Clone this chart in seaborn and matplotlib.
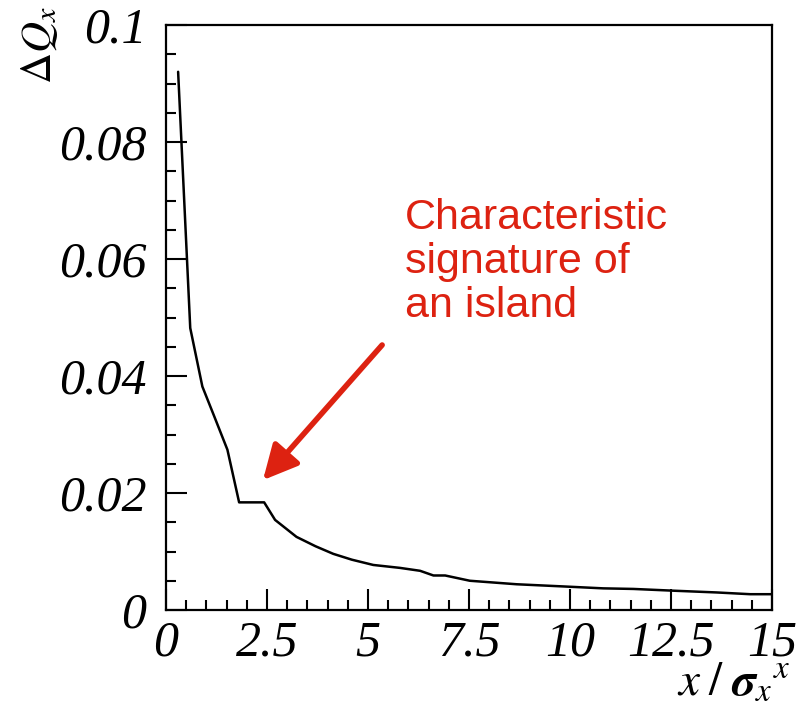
import numpy as np
import pandas as pd
import matplotlib
matplotlib.use("Agg")
import matplotlib.pyplot as plt
import seaborn as sns
from matplotlib.ticker import MultipleLocator, FixedLocator, FixedFormatter

# Tune shift versus horizontal amplitude
amplitude = [0.30, 0.60, 0.90, 1.20, 1.52, 1.81, 2.43, 2.70, 3.23, 3.70, 4.14,
             4.60, 5.13, 5.79, 6.29, 6.62, 6.91, 7.52, 8.10, 8.68, 9.30, 9.92,
             10.82, 11.57, 12.56, 13.63, 14.46, 15.00]
tune_shift = [0.0920, 0.0482, 0.0382, 0.0330, 0.0274, 0.0184, 0.0184, 0.0154,
              0.0125, 0.0109, 0.0096, 0.0086, 0.0077, 0.0072, 0.0067, 0.0059,
              0.0059, 0.0050, 0.0047, 0.0044, 0.0042, 0.0040, 0.0037, 0.0036,
              0.0033, 0.0030, 0.0027, 0.0027]

x_ticks = [0, 2.5, 5, 7.5, 10, 12.5, 15]
x_tick_labels = ["0", "2.5", "5", "7.5", "10", "12.5", "15"]
y_ticks = [0, 0.02, 0.04, 0.06, 0.08, 0.1]
y_tick_labels = ["0", "0.02", "0.04", "0.06", "0.08", "0.1"]

note_text = "Characteristic\nsignature of\nan island"
note_color = "#dd2211"

sns.set_style("white")
plt.rcParams["font.family"] = ["Liberation Serif", "DejaVu Serif"]
plt.rcParams["mathtext.fontset"] = "stix"
plt.rcParams["text.color"] = "black"

df = pd.DataFrame({"amp": amplitude, "dq": tune_shift})

fig = plt.figure(figsize=(8.12, 7.19), dpi=100)
ax = fig.add_axes([166 / 812, 1 - 610 / 719, 606 / 812, 585 / 719])

sns.lineplot(data=df, x="amp", y="dq", ax=ax, color="black", lw=1.8,
             sort=False, estimator=None)

ax.set_xlim(0, 15)
ax.set_ylim(0, 0.1)

for s in ax.spines.values():
    s.set_color("black")
    s.set_linewidth(1.6)

ax.xaxis.set_major_locator(FixedLocator(x_ticks))
ax.xaxis.set_major_formatter(FixedFormatter(x_tick_labels))
ax.xaxis.set_minor_locator(MultipleLocator(0.5))
ax.yaxis.set_major_locator(FixedLocator(y_ticks))
ax.yaxis.set_major_formatter(FixedFormatter(y_tick_labels))
ax.yaxis.set_minor_locator(MultipleLocator(0.005))

ax.tick_params(which="both", direction="in", color="black", width=1.5,
               labelcolor="black",
               top=False, right=False, left=True, bottom=True)
ax.tick_params(which="major", length=15)
ax.tick_params(which="minor", length=7)
ax.tick_params(axis="y", which="major", pad=14, labelsize=36)
ax.tick_params(axis="x", which="major", pad=7, labelsize=36)
for lab in ax.get_xticklabels() + ax.get_yticklabels():
    lab.set_fontstyle("italic")

ax.set_xlabel("")
ax.set_ylabel("")
ax.text(1.03, -0.125, r"$x\;/\;\boldsymbol{\sigma}_{x}{}^{x}$", transform=ax.transAxes,
        ha="right", va="center", fontsize=34, color="black")
fig.text(40 / 812, 1 - 6 / 719, r"$\Delta Q_{x}$", rotation=90,
         ha="center", va="top", fontsize=31, color="black")

ax.text(5.92, 0.0705, note_text, color=note_color, fontsize=31,
        family=["Liberation Sans", "DejaVu Sans"], ha="left", va="top",
        linespacing=1.13)
ax.annotate("", xy=(2.40, 0.0222), xytext=(5.35, 0.0453),
            arrowprops=dict(arrowstyle="-|>,head_length=0.7,head_width=0.35",
                            color=note_color, lw=4, mutation_scale=30,
                            shrinkA=0, shrinkB=0))

fig.savefig("out.png", dpi=100)
